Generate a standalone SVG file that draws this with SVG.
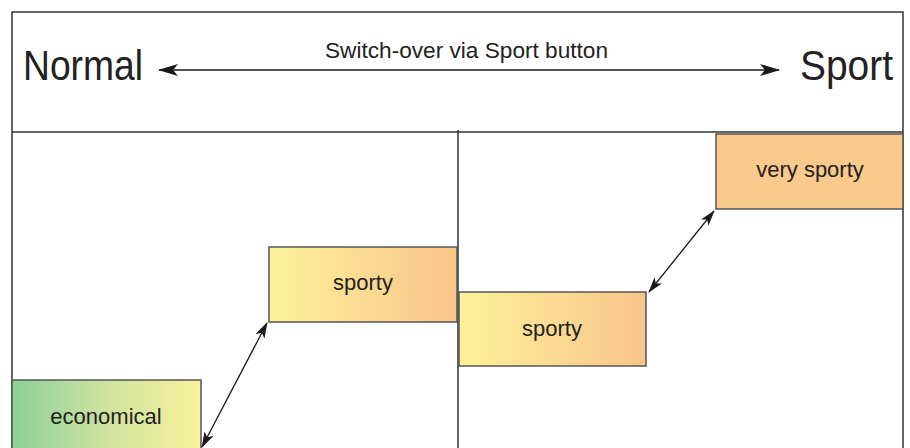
<svg xmlns="http://www.w3.org/2000/svg" width="910" height="448" viewBox="0 0 910 448">
<defs>
<linearGradient id="gEco" x1="0" y1="0" x2="1" y2="0">
<stop offset="0" stop-color="#8ccf98"/>
<stop offset="0.5" stop-color="#cfe3a0"/>
<stop offset="1" stop-color="#f8f29a"/>
</linearGradient>
<linearGradient id="gSporty" x1="0" y1="0" x2="1" y2="0">
<stop offset="0" stop-color="#fdf19a"/>
<stop offset="1" stop-color="#f9c58a"/>
</linearGradient>
<marker id="ah" viewBox="0 0 16 10" refX="15" refY="5" markerWidth="16" markerHeight="10" markerUnits="userSpaceOnUse" orient="auto-start-reverse">
<path d="M0,0 L16,5 L0,10 L4,5 Z" fill="#1a1a1a"/>
</marker>
<marker id="ahBig" viewBox="0 0 20 12" refX="19" refY="6" markerWidth="20" markerHeight="12" markerUnits="userSpaceOnUse" orient="auto-start-reverse">
<path d="M0,0 L20,6 L0,12 L5,6 Z" fill="#1a1a1a"/>
</marker>
</defs>
<style>
.frame{fill:none;stroke:#333;stroke-width:1.5}
.box{stroke:#555;stroke-width:1.5}
.lbl{font-family:"Liberation Sans",Arial,sans-serif;fill:#222;text-anchor:middle}
.big{font-family:"Liberation Sans",Arial,sans-serif;fill:#222}
.conn{stroke:#1a1a1a;stroke-width:1.3;fill:none}
</style>
<rect width="910" height="448" fill="#fff"/>
<g id="frame">
<path class="frame" d="M12,460 L12,12 L903,12 L903,460"/>
<line class="frame" x1="12" y1="132" x2="903" y2="132"/>
<line class="frame" x1="458" y1="130" x2="458" y2="460"/>
</g>
<g id="header">
<text class="big" x="23" y="80" font-size="42" textLength="120" lengthAdjust="spacingAndGlyphs">Normal</text>
<text class="big" x="800" y="80" font-size="42" textLength="93" lengthAdjust="spacingAndGlyphs">Sport</text>
<text class="big" x="325" y="58" font-size="22" textLength="283" lengthAdjust="spacingAndGlyphs">Switch-over via Sport button</text>
</g>
<g id="economical">
<rect class="box" x="12" y="380" width="189" height="80" fill="url(#gEco)"/>
<text class="lbl" x="106" y="424" font-size="22">economical</text>
</g>
<g id="sporty1">
<rect class="box" x="269" y="247" width="188" height="75" fill="url(#gSporty)"/>
<text class="lbl" x="363" y="290" font-size="22">sporty</text>
</g>
<g id="sporty2">
<rect class="box" x="459" y="292" width="187" height="74" fill="url(#gSporty)"/>
<text class="lbl" x="552" y="336" font-size="22">sporty</text>
</g>
<g id="verysporty">
<rect class="box" x="716" y="134" width="187" height="75" fill="#fac98c"/>
<text class="lbl" x="810" y="177" font-size="22">very sporty</text>
</g>
<g id="connectors">
<line class="conn" x1="159" y1="70" x2="779" y2="70" marker-start="url(#ahBig)" marker-end="url(#ahBig)"/>
<line class="conn" x1="202" y1="447" x2="267" y2="323" marker-start="url(#ah)" marker-end="url(#ah)"/>
<line class="conn" x1="649" y1="292" x2="714" y2="211" marker-start="url(#ah)" marker-end="url(#ah)"/>
</g>
</svg>
